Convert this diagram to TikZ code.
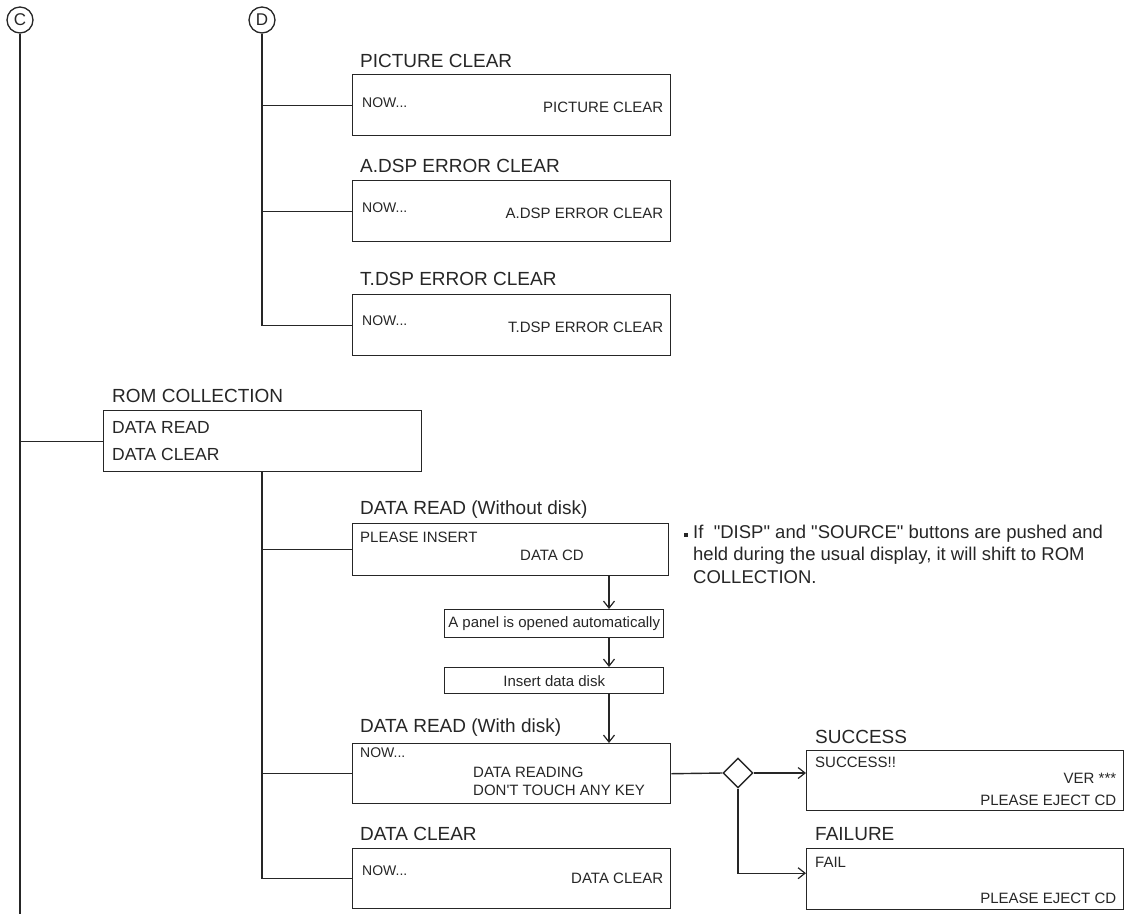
\documentclass[tikz,border=0pt]{standalone}
\usepackage{fontspec}
\setmainfont{Liberation Sans}
\usetikzlibrary{arrows.meta,shapes.geometric,positioning}
\definecolor{ink}{HTML}{262626}

\begin{document}
\begin{tikzpicture}[x=1pt,y=1pt,
    line/.style={draw=ink, line width=1.4pt},
    flow/.style={line, -{Straight Barb[length=7pt,width=11pt,line width=1.2pt]}},
    lcd/.style={draw=ink, line width=1.4pt, inner sep=0pt, anchor=north west,
      minimum width=318pt, minimum height=61pt},
    stepbox/.style={draw=ink, line width=1.4pt, inner sep=0pt, anchor=north west,
      minimum width=219pt, font=\fontsize{15}{15}\selectfont, text=ink},
    head/.style={font=\fontsize{19}{19}\selectfont, anchor=base west, inner sep=0pt, text=ink},
    txt/.style={font=\fontsize{15}{15}\selectfont, anchor=base west, inner sep=0pt, text=ink},
    txtr/.style={txt, anchor=base east},
    now/.style={font=\fontsize{14}{14}\selectfont, anchor=base west, inner sep=0pt, text=ink},
    menu/.style={font=\fontsize{17.5}{17.5}\selectfont, anchor=base west, inner sep=0pt, text=ink},
    conn/.style={circle, draw=ink, line width=1.3pt, minimum size=26pt, inner sep=0pt,
      font=\fontsize{17}{17}\selectfont, text=ink},
  ]
  \useasboundingbox (0,0) rectangle (1126,-914);
  \def\xs{352}
  \def\xr{806}

  %Connectors
  \node[conn] (c) at (20,-20) {C};
  \node[conn] (d) at (262,-20) {D};
  \coordinate (cend) at (20,-914);

  %Screens under D
  \node[lcd] (pic) at (\xs,-74) {};
  \node[lcd] (adsp) at (\xs,-180) {};
  \node[lcd] (tdsp) at (\xs,-294) {};
  \node[head] (picH) at ([shift={(8,7)}]pic.north west) {PICTURE CLEAR};
  \node[head] (adspH) at ([shift={(8,8)}]adsp.north west) {A.DSP ERROR CLEAR};
  \node[head] (tdspH) at ([shift={(8,9)}]tdsp.north west) {T.DSP ERROR CLEAR};
  \node[now] (picN) at ([shift={(10,-33)}]pic.north west) {NOW...};
  \node[now] (adspN) at ([shift={(10,-32)}]adsp.north west) {NOW...};
  \node[now] (tdspN) at ([shift={(10,-31)}]tdsp.north west) {NOW...};
  \node[txtr] (picT) at ([shift={(-8,-38)}]pic.north east) {PICTURE CLEAR};
  \node[txtr] (adspT) at ([shift={(-8,-38)}]adsp.north east) {A.DSP ERROR CLEAR};
  \node[txtr] (tdspT) at ([shift={(-8,-38)}]tdsp.north east) {T.DSP ERROR CLEAR};

  %ROM collection
  \node[lcd] (rom) at (103,-410) {};
  \node[head] (romH) at ([shift={(9,8)}]rom.north west) {ROM COLLECTION};
  \node[menu] (romA) at ([shift={(9,-23)}]rom.north west) {DATA READ};
  \node[menu] (romB) at ([shift={(9,-50)}]rom.north west) {DATA CLEAR};

  %Data read without disk
  \node[lcd, minimum width=316pt, minimum height=52pt] (rdno) at (\xs,-523) {};
  \node[head] (rdnoH) at ([shift={(8,9)}]rdno.north west) {DATA READ (Without disk)};
  \node[txt] (rdnoA) at ([shift={(8,-19)}]rdno.north west) {PLEASE INSERT};
  \node[txt] (rdnoB) at ([shift={(168,-37)}]rdno.north west) {DATA CD};
  \node[stepbox, minimum height=28pt] (panel) at (444,-609) {A panel is opened automatically};
  \node[stepbox, minimum height=26pt] (insert) at (444,-667) {Insert data disk};

  %Data read with disk
  \node[lcd, minimum height=60pt] (rdwith) at (\xs,-743) {};
  \node[head] (rdwithH) at ([shift={(8,11)}]rdwith.north west) {DATA READ (With disk)};
  \node[now] (rdwithN) at ([shift={(8,-14)}]rdwith.north west) {NOW...};
  \node[txt] (rdwithA) at ([shift={(121,-34)}]rdwith.north west) {DATA READING};
  \node[txt] (rdwithB) at ([shift={(121,-52)}]rdwith.north west) {DON\textquotesingle T TOUCH ANY KEY};

  %Data clear
  \node[lcd, minimum height=60pt] (dclr) at (\xs,-848) {};
  \node[head] (dclrH) at ([shift={(8,8)}]dclr.north west) {DATA CLEAR};
  \node[now] (dclrN) at ([shift={(10,-27)}]dclr.north west) {NOW...};
  \node[txtr] (dclrT) at ([shift={(-8,-35)}]dclr.north east) {DATA CLEAR};

  %Result screens
  \node[draw=ink, line width=1.4pt, diamond, minimum width=30pt, minimum height=30pt,
    inner sep=0pt] (dia) at (738,-773) {};
  \node[lcd, minimum width=317pt, minimum height=60pt] (succ) at (\xr,-750) {};
  \node[head] (succH) at ([shift={(9,7)}]succ.north west) {SUCCESS};
  \node[txt] (succA) at ([shift={(9,-17)}]succ.north west) {SUCCESS!!};
  \node[txtr] (succB) at ([shift={(-8,-33)}]succ.north east) {VER ***};
  \node[txtr] (succC) at ([shift={(-8,-55)}]succ.north east) {PLEASE EJECT CD};
  \node[lcd, minimum width=317pt, minimum height=61pt] (fail) at (\xr,-848) {};
  \node[head] (failH) at ([shift={(9,8)}]fail.north west) {FAILURE};
  \node[txt] (failA) at ([shift={(9,-19)}]fail.north west) {FAIL};
  \node[txtr] (failB) at ([shift={(-8,-55)}]fail.north east) {PLEASE EJECT CD};

  %Note
  \fill[ink] (684,-533) rectangle (687.5,-537);
  \node[font=\fontsize{18.5}{22.5}\selectfont, text=ink, align=left, anchor=base west,
    inner sep=0pt] (note) at (693,-583)
    {If\ \ \textquotedbl DISP\textquotedbl{} and \textquotedbl SOURCE\textquotedbl{} buttons are pushed and\\
     held during the usual display, it will shift to ROM\\
     COLLECTION.};

  %Draw lines
  \draw[line] (c) -- (cend);
  \draw[line] (c |- rom.west) -- (rom.west);
  \draw[line] (d) -- (d |- tdsp.west) -- (tdsp.west);
  \draw[line] (d |- pic.west) -- (pic.west);
  \draw[line] (d |- adsp.west) -- (adsp.west);
  \draw[line] (d |- rom.south) -- (d |- dclr.west) -- (dclr.west);
  \draw[line] (d |- rdno.west) -- (rdno.west);
  \draw[line] (d |- rdwith.west) -- (rdwith.west);
  \coordinate (ax) at (609,0);
  \draw[flow] (ax |- rdno.south) -- (ax |- panel.north);
  \draw[flow] (ax |- panel.south) -- (ax |- insert.north);
  \draw[flow] (ax |- insert.south) -- (ax |- rdwith.north);
  \draw[line] (rdwith.east) -- (dia.west);
  \draw[flow] (dia.east) -- (dia.east -| succ.west);
  \draw[flow] (dia.south) |- ([yshift=6pt]fail.west);
\end{tikzpicture}
\end{document}
